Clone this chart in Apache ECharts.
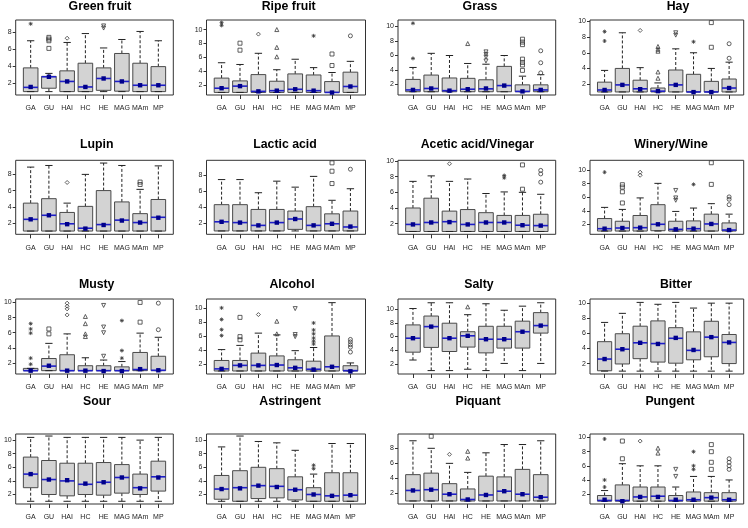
<!DOCTYPE html>
<html><head><meta charset="utf-8">
<script src="https://cdn.jsdelivr.net/npm/echarts@6/dist/echarts.min.js"></script>
<style>html,body{margin:0;padding:0;background:#fff}#c{width:748px;height:528px}</style>
</head><body><div id="c"></div>
<script>
const categories = ['GA','GU','HAI','HC','HE','MAG','MAm','MP'];
const ticksTo8 = [2,4,6,8];
const ticksTo10 = [2,4,6,8,10];

// stats per category: [lowWhisker, q1, median, q3, highWhisker]
const greenFruitStats = [[1,1,1.5,3.8,7.0],[1,1.4,2.75,2.8,3.15],[1,1,2.2,3.45,6.8],[1,1,1.55,4.35,7.85],[1,1.15,2.55,3.8,6.15],[1,1.05,2.2,5.5,7.15],[1,1,1.75,4.35,8.1],[1,1,1.75,3.95,7.0]];
const greenFruitMeans = [1.55,2.75,2.2,1.55,2.55,2.2,1.75,1.75];
const greenFruitOutliers = [[0,9.0],[1,7.4],[1,7.2],[1,7.0],[1,6.1],[2,7.3],[4,8.75],[4,8.5]];

const ripeFruitStats = [[1,1,1.6,3.05,5.25],[1,1,1.9,2.65,5.0],[1,1,1.15,3.55,6.6],[1,1,1.25,2.6,4.25],[1,1,1.45,3.65,5.75],[1,1,1.25,3.5,4.55],[1,1,1.0,2.55,3.85],[1,1,1.85,3.9,5.45]];
const ripeFruitMeans = [1.6,1.9,1.15,1.25,1.45,1.25,0.98,1.85];
const ripeFruitOutliers = [[0,11.0],[0,10.6],[1,8.05],[1,7.05],[2,9.35],[3,10.0],[3,7.45],[3,6.1],[5,9.1],[6,6.5],[6,4.85],[7,9.1]];

const grassStats = [[1,1,1.25,2.7,4.35],[1,1,1.45,3.3,6.3],[1,1,1.15,2.9,6.0],[1,1,1.35,2.85,4.9],[1,1,1.4,2.65,4.8],[1,1,1.85,4.5,6.0],[1,1,1.05,1.95,3.15],[1,1,1.25,1.95,3.35]];
const grassMeans = [1.25,1.45,1.15,1.35,1.45,1.85,1.05,1.25];
const grassOutliers = [[0,10.45],[0,5.6],[3,7.65],[4,6.5],[4,6.15],[4,5.8],[4,5.25],[6,8.25],[6,7.85],[6,7.5],[6,5.5],[6,5.05],[6,4.7],[6,3.95],[7,6.65],[7,5.0],[7,3.6]];

const hayStats = [[1,1,1.25,2.25,3.75],[1,1,1.9,4.0,8.55],[1,1,1.4,2.5,4.1],[1,1,1.1,1.5,2.15],[1,1,1.9,3.8,6.5],[1,1,1.0,3.25,6.0],[1,1,1.0,2.35,4.0],[1,1,1.5,2.65,4.8]];
const hayMeans = [1.25,1.9,1.35,1.1,1.9,0.98,0.98,1.5];
const hayOutliers = [[0,8.7],[0,7.5],[2,8.85],[3,6.8],[3,6.45],[3,6.2],[3,3.55],[3,2.75],[4,8.55],[4,8.25],[5,7.4],[6,9.85],[6,6.7],[7,7.15],[7,5.3]];

const lupinStats = [[1,1,2.45,4.45,8.9],[1,1,2.95,5.0,9.1],[1,1,1.9,3.3,4.45],[1,1,1.35,4.05,8.0],[1,1,1.8,6.0,9.4],[1,1,2.35,4.6,9.1],[1,1,2.05,3.15,6.15],[1,1,2.7,4.9,9.05]];
const lupinMeans = [2.45,2.95,1.85,1.3,1.75,2.3,2.05,2.65];
const lupinOutliers = [[2,7.0],[6,7.05],[6,6.75]];

const lacticStats = [[1,1,2.15,4.3,7.45],[1,1,2.05,4.3,7.45],[1,1,1.7,3.7,5.8],[1,1,2.05,3.7,7.25],[1,1.2,2.5,3.5,6.5],[1,1,1.7,4.05,7.85],[1,1,1.9,3.15,4.85],[1,1,1.5,3.5,6.3]];
const lacticMeans = [2.15,2.05,1.7,2.05,2.5,1.7,1.9,1.55];
const lacticOutliers = [[6,9.55],[6,8.5],[6,6.95],[7,8.75]];

const aceticStats = [[1,1,1.9,4.0,7.4],[1,1,2.15,5.25,8.1],[1,1,2.25,3.6,7.4],[1,1,1.9,3.8,7.7],[1,1,2.15,3.4,5.85],[1,1,2.15,3.05,6.05],[1,1,1.8,3.05,6.0],[1,1,1.75,3.2,5.75]];
const aceticMeans = [1.9,2.15,2.2,1.9,2.15,2.15,1.8,1.75];
const aceticOutliers = [[2,9.65],[5,8.15],[5,7.85],[6,9.5],[6,6.4],[7,8.8],[7,8.35],[7,7.3]];

const wineStats = [[1,1,1.35,2.85,4.5],[1,1,1.45,2.45,4.2],[1,1,1.5,3.3,5.9],[1,1.05,2.0,4.9,8.05],[1,1,1.25,2.45,3.9],[1,1,1.35,2.5,4.4],[1,1,2.05,3.5,5.05],[1,1,1.15,2.2,3.5]];
const wineMeans = [1.35,1.45,1.5,2.0,1.25,1.35,2.05,1.15];
const wineOutliers = [[0,9.7],[1,7.85],[1,7.5],[1,6.8],[1,5.15],[2,9.7],[2,9.25],[4,7.0],[4,5.9],[4,5.55],[5,7.9],[6,11.1],[6,7.9],[7,6.05],[7,5.7],[7,4.9]];

const mustyStats = [[1,1,1.0,1.3,1.3],[1,1,1.6,2.6,4.6],[1,1,1.0,3.1,5.85],[1,1,1.0,1.65,2.7],[1,1,1.0,1.65,2.4],[1,1,1.0,1.5,2.2],[1,1,1.15,3.4,5.95],[1,1,1.05,2.9,5.4]];
const mustyMeans = [1.0,1.65,1.0,1.0,0.95,0.95,1.2,1.05];
const mustyOutliers = [[0,7.2],[0,6.5],[0,5.95],[0,2.65],[0,1.85],[1,6.5],[1,5.85],[2,9.9],[2,9.5],[2,9.15],[2,8.35],[3,8.15],[3,7.2],[3,5.85],[3,5.5],[4,9.6],[4,6.75],[4,6.0],[4,2.9],[5,7.6],[5,3.65],[5,2.65],[6,10.0],[6,7.4],[7,9.9],[7,6.4]];

const alcoholStats = [[1,1,1.3,2.5,4.05],[1,1,1.8,2.5,4.65],[1,1,1.8,3.55,6.4],[1,1,1.85,3.15,6.15],[1,1,1.45,2.6,3.9],[1,1,1.25,2.4,4.35],[1,1,1.6,6.0,10.75],[1,1,1.05,1.75,2.15]];
const alcoholMeans = [1.3,1.8,1.8,1.85,1.45,1.2,1.6,0.95];
const alcoholOutliers = [[0,10.0],[0,8.35],[0,6.9],[0,6.05],[1,8.65],[1,5.9],[1,5.45],[2,9.05],[3,8.1],[3,6.3],[4,9.9],[4,6.2],[4,5.9],[5,7.85],[5,6.85],[5,6.3],[5,5.7],[5,5.25],[5,4.85],[7,5.5],[7,5.15],[7,4.75],[7,4.4],[7,3.7]];

const saltyStats = [[2.55,3.7,5.75,7.7,10.1],[1,4.4,7.45,9.0,10.95],[1,3.8,5.75,7.95,10.95],[1.2,4.45,6.1,6.7,9.2],[1,3.6,5.6,7.5,10.8],[2.05,4.3,5.6,7.5,9.85],[1,4.3,6.7,8.25,10.45],[2.05,6.5,7.6,9.5,10.95]];
const saltyMeans = [5.75,7.45,5.75,6.1,5.6,5.6,6.7,7.6];
const saltyOutliers = [[3,10.35]];

const bitterStats = [[1,1.05,2.6,4.9,7.45],[1,1.95,3.9,5.95,8.65],[1,2.65,4.75,6.95,10.1],[1,2.2,4.65,7.65,9.85],[1,2.05,5.35,6.75,10.1],[1,2.5,3.75,6.2,9.35],[1,2.9,5.5,7.6,10.0],[1,2.0,4.8,5.85,10.0]];
const bitterMeans = [2.6,3.9,4.75,4.6,5.4,3.8,5.5,4.8];
const bitterOutliers = [];

const sourStats = [[1,3,5,7.5,10.4],[1,2,4.2,7,10.6],[1,1.8,4,6.6,10.4],[1,2,3.5,6.6,10.4],[1,1.9,3.8,6.7,10.4],[1,2.2,4.5,6.4,10.4],[1,2,3,5,10],[1,2.5,4.6,6.9,10.4]];
const sourMeans = [5,4.2,4.1,3.6,3.8,4.5,2.9,4.5];
const sourOutliers = [];

const astringentStats = [[1,1.3,2.8,4.8,9],[1,1,3,5.5,10.6],[1,1.4,3.3,6,9.8],[1,1.5,3.2,5.8,9.6],[1,1.2,2.7,4.6,8.5],[1,1,2.0,3,5],[1,1,1.8,5.2,9.5],[1,1,1.9,5.2,9.5]];
const astringentMeans = [2.8,2.9,3.3,3.1,2.7,2.0,1.8,1.9];
const astringentOutliers = [[5,6.3],[5,5.8]];

const piquantStats = [[1,1,2.4,4.5,9],[1,1,2.5,4.7,8],[1,1,1.9,3.3,6],[1,1,1.2,2.6,4.8],[1,1,1.8,4.3,7.4],[1,1,2.3,4.2,8.5],[1,1,1.9,5.2,8.5],[1,1,1.5,4.5,9]];
const piquantMeans = [2.4,2.5,1.9,1.2,1.8,2.3,1.9,1.5];
const piquantOutliers = [[1,9.6],[2,7.2],[3,7.6],[3,6.7]];

const pungentStats = [[1,1,1.1,1.8,2.5],[1,1,1.1,3.3,6.3],[1,1,1.6,3,6],[1,1,1.7,3,6],[1,1,1.1,1.8,3],[1,1,1.2,2.3,4.5],[1,1,1.5,2.2,4.5],[1,1,1.2,2.2,4]];
const pungentMeans = [1.2,1.0,1.6,1.6,1.2,1.2,1.5,1.2];
const pungentOutliers = [[0,9.8],[0,4],[0,3],[1,9.5],[1,7],[2,9.5],[3,8.5],[3,7.8],[4,5.5],[4,4.5],[5,8],[5,6],[5,5.5],[6,9],[6,8],[6,6.5],[6,5.5],[7,7],[7,6.5],[7,6],[7,5.5]];

const panelTitles = ['Green fruit','Ripe fruit','Grass','Hay','Lupin','Lactic acid','Acetic acid/Vinegar','Winery/Wine','Musty','Alcohol','Salty','Bitter','Sour','Astringent','Piquant','Pungent'];
const panelStats = [greenFruitStats,ripeFruitStats,grassStats,hayStats,lupinStats,lacticStats,aceticStats,wineStats,mustyStats,alcoholStats,saltyStats,bitterStats,sourStats,astringentStats,piquantStats,pungentStats];
const panelMeans = [greenFruitMeans,ripeFruitMeans,grassMeans,hayMeans,lupinMeans,lacticMeans,aceticMeans,wineMeans,mustyMeans,alcoholMeans,saltyMeans,bitterMeans,sourMeans,astringentMeans,piquantMeans,pungentMeans];
const panelOutliers = [greenFruitOutliers,ripeFruitOutliers,grassOutliers,hayOutliers,lupinOutliers,lacticOutliers,aceticOutliers,wineOutliers,mustyOutliers,alcoholOutliers,saltyOutliers,bitterOutliers,sourOutliers,astringentOutliers,piquantOutliers,pungentOutliers];
const panelTicks = [ticksTo8,ticksTo10,ticksTo10,ticksTo10,ticksTo8,ticksTo8,ticksTo10,ticksTo10,ticksTo10,ticksTo10,ticksTo10,ticksTo10,ticksTo10,ticksTo10,ticksTo8,ticksTo10];
const panelRanges = [[0.6,9.45],[0.63,11.37],[0.55,10.9],[0.61,10.18],[0.6,9.74],[0.58,9.87],[0.64,10.09],[0.52,11.46],[0.56,10.45],[0.57,11.27],[0.5,11.5],[0.62,10.55],[0.6,10.9],[0.6,10.9],[0.6,9.9],[0.6,10.5]];

// layout (pixels)
const colLeft = [15.7, 206.5, 398, 590];
const colWidth = [157.6, 159, 157.7, 153.7];
const rowTop = [20, 160.3, 299, 434];
const rowHeight = [75, 74, 75, 70];
const titleX = [100, 288.7, 480, 678, 96.7, 285, 477.3, 671, 96.7, 292, 479, 676, 97, 290, 478, 670];
const titleY = [7, 144.5, 284.7, 402];

const FONT = '"Liberation Sans", Arial, Helvetica, sans-serif';
const symbolFor = [
  'path://M5,0L5,10M0,5L10,5M1.5,1.5L8.5,8.5M8.5,1.5L1.5,8.5',
  'rect','diamond','triangle','path://M0,0L10,0L5,10Z',
  'path://M5,0L5,10M0,5L10,5M1.5,1.5L8.5,8.5M8.5,1.5L1.5,8.5',
  'rect','circle'];

function renderBox(params, api) {
  const x = api.value(0);
  const low = api.value(1), q1 = api.value(2), med = api.value(3), q3 = api.value(4), high = api.value(5), mean = api.value(6);
  const hw = api.size([0.4, 0])[0];
  const cw = api.size([0.2, 0])[0];
  const px = api.coord([x, med])[0];
  const y = v => api.coord([x, v])[1];
  const ch = [];
  const dash = {stroke:'#222', lineWidth:1, lineDash:[3,2], fill:null};
  const solid = {stroke:'#222', lineWidth:1, fill:null};
  if (high > q3) ch.push({type:'line', shape:{x1:px,y1:y(q3),x2:px,y2:y(high)}, style:dash});
  if (low < q1) ch.push({type:'line', shape:{x1:px,y1:y(q1),x2:px,y2:y(low)}, style:dash});
  ch.push({type:'rect', shape:{x:px-hw, y:y(q3), width:2*hw, height:Math.max(0.5, y(q1)-y(q3))}, style:{fill:'#d3d3d3', stroke:'#4a4a4a', lineWidth:1}});
  ch.push({type:'line', shape:{x1:px-cw,y1:y(high),x2:px+cw,y2:y(high)}, style:solid});
  ch.push({type:'line', shape:{x1:px-cw,y1:y(low),x2:px+cw,y2:y(low)}, style:solid});
  ch.push({type:'line', shape:{x1:px-hw,y1:y(med),x2:px+hw,y2:y(med)}, style:{stroke:'#1f1fc8', lineWidth:1.6}});
  ch.push({type:'rect', shape:{x:px-2.2, y:y(mean)-2.2, width:4.4, height:4.4}, style:{fill:'#00008b'}});
  return {type:'group', children:ch};
}

const grid = [], xAxis = [], yAxis = [], series = [], graphic = [];
for (let p = 0; p < 16; p++) {
  const r = Math.floor(p/4), c = p % 4;
  grid.push({left:colLeft[c], top:rowTop[r], width:colWidth[c], height:rowHeight[r], show:true, borderColor:'#333', borderWidth:1, backgroundColor:'transparent'});
  xAxis.push({type:'value', gridIndex:p, min:0.18, max:8.82,
    axisLine:{show:false, onZero:false},
    axisTick:{show:true, length:4, customValues:[1,2,3,4,5,6,7,8], lineStyle:{color:'#333'}},
    axisLabel:{show:true, customValues:[1,2,3,4,5,6,7,8], formatter:v=>categories[Math.round(v)-1], fontSize:7, fontFamily:FONT, color:'#222', margin:10},
    splitLine:{show:false}});
  yAxis.push({type:'value', gridIndex:p, min:panelRanges[p][0], max:panelRanges[p][1],
    axisLine:{show:false, onZero:false},
    axisTick:{show:true, length:3, customValues:panelTicks[p], lineStyle:{color:'#333'}},
    axisLabel:{show:true, customValues:panelTicks[p], fontSize:7, fontFamily:FONT, color:'#222', margin:4},
    splitLine:{show:false}});
  const boxData = panelStats[p].map((s,i)=>[i+1, s[0], s[1], s[2], s[3], s[4], panelMeans[p][i]]);
  series.push({type:'custom', xAxisIndex:p, yAxisIndex:p, renderItem:renderBox, data:boxData, encode:{x:0, y:[1,2,3,4,5,6]}, silent:true, clip:false, z:2});
  series.push({type:'scatter', xAxisIndex:p, yAxisIndex:p, symbolSize:4, z:3, silent:true,
    data: panelOutliers[p].map(o=>({value:[o[0]+1, o[1]], symbol:symbolFor[o[0]]})),
    itemStyle:{color:'rgba(0,0,0,0)', borderColor:'#3a3a3a', borderWidth:1}});
  graphic.push({type:'text', x:titleX[p], y:titleY[r], style:{text:panelTitles[p], fontSize:12.3, fontWeight:'bold', fontFamily:FONT, fill:'#000', textAlign:'center', textVerticalAlign:'middle'}});
}

const chart = echarts.init(document.getElementById('c'), null, {renderer:'canvas'});
chart.setOption({animation:false, backgroundColor:'#fff', grid, xAxis, yAxis, series, graphic});
</script>
</body></html>
